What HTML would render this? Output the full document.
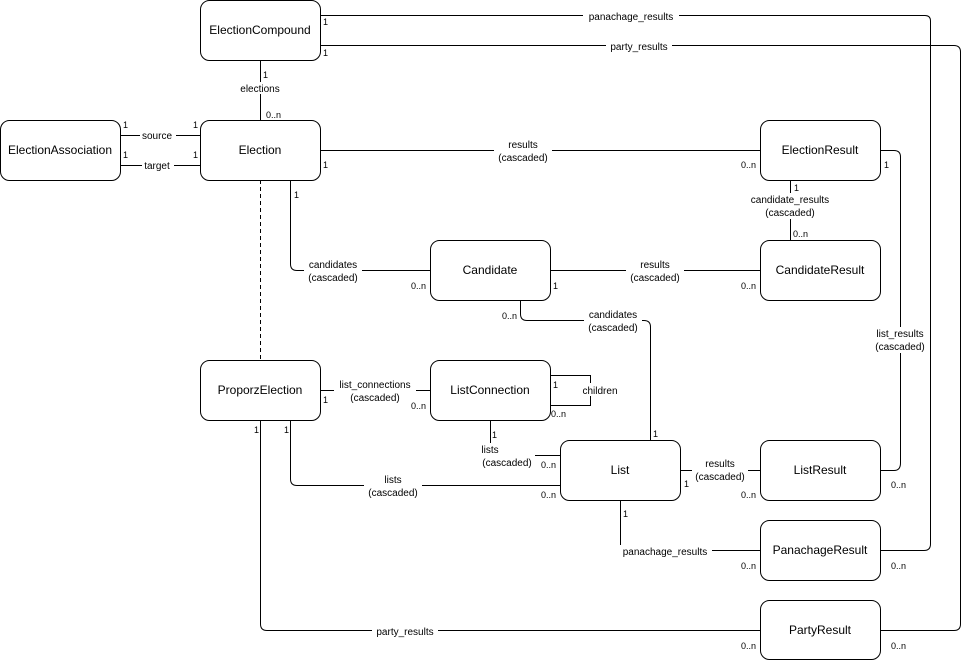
<!DOCTYPE html>
<html><head><meta charset="utf-8"><style>
html,body{margin:0;padding:0;background:#fff;}
svg{display:block;font-family:"Liberation Sans",Arial,sans-serif;}
.b{fill:#fff;stroke:#000;stroke-width:1;}
.l{fill:none;stroke:#000;stroke-width:1;}
.t{font-size:12px;text-anchor:middle;dominant-baseline:central;}
.e{font-size:10px;text-anchor:middle;}
.m{font-size:9px;}
.bg{fill:#fff;}
</style></head><body>
<svg width="962" height="661" viewBox="0 0 962 661" xmlns="http://www.w3.org/2000/svg">
<!-- connectors -->
<path class="l" d="M320.5 15.5 H925 Q930.5 15.5 930.5 21 V544 Q930.5 550.5 924 550.5 H880"/>
<path class="l" d="M320.5 45.5 H954 Q960.5 45.5 960.5 52 V624 Q960.5 630.5 954 630.5 H880"/>
<path class="l" d="M260.5 60 V120"/>
<path class="l" d="M120 135.5 H200 M120 165.5 H200"/>
<path class="l" d="M320 150.5 H760"/>
<path class="l" d="M790.5 180 V240"/>
<path class="l" d="M880 150.5 H894 Q900.5 150.5 900.5 157 V463 Q900.5 470.5 894 470.5 H880"/>
<path class="l" d="M290.5 180 V264 Q290.5 270.5 297 270.5 H430"/>
<path class="l" d="M260.5 180 V360" stroke-dasharray="4 3"/>
<path class="l" d="M550 270.5 H760"/>
<path class="l" d="M520.5 300 V314 Q520.5 320.5 527 320.5 H644 Q650.5 320.5 650.5 327 V440"/>
<path class="l" d="M320 390.5 H430"/>
<path class="l" d="M550 375.5 H590.5 V405.5 H550"/>
<path class="l" d="M490.5 420 V443 M535 455.5 H560"/>
<path class="l" d="M290.5 420 V479 Q290.5 485.5 297 485.5 H560"/>
<path class="l" d="M680 470.5 H760"/>
<path class="l" d="M620.5 500 V550.5 H760"/>
<path class="l" d="M260.5 420 V624 Q260.5 630.5 267 630.5 H760"/>
<!-- edge labels -->
<g class="e">
<rect class="bg" x="583" y="9" width="96" height="12"/><text x="631" y="20">panachage_results</text>
<rect class="bg" x="606" y="39" width="66" height="12"/><text x="639" y="50">party_results</text>
<rect class="bg" x="236" y="82" width="50" height="12"/><text x="260" y="92">elections</text>
<rect class="bg" x="140" y="129" width="36" height="12"/><text x="157" y="139">source</text>
<rect class="bg" x="142" y="159" width="32" height="12"/><text x="157" y="169">target</text>
<rect class="bg" x="494" y="138" width="58" height="26"/><text x="523" y="148">results</text><text x="523" y="161">(cascaded)</text>
<rect class="bg" x="745" y="193" width="90" height="26"/><text x="790" y="203">candidate_results</text><text x="790" y="216">(cascaded)</text>
<rect class="bg" x="870" y="327" width="60" height="26"/><text x="900" y="337">list_results</text><text x="900" y="350">(cascaded)</text>
<rect class="bg" x="304" y="258" width="58" height="26"/><text x="333" y="268">candidates</text><text x="333" y="281">(cascaded)</text>
<rect class="bg" x="626" y="258" width="58" height="26"/><text x="655" y="268">results</text><text x="655" y="281">(cascaded)</text>
<rect class="bg" x="584" y="308" width="58" height="26"/><text x="613" y="318">candidates</text><text x="613" y="331">(cascaded)</text>
<rect class="bg" x="334" y="378" width="82" height="26"/><text x="375" y="388">list_connections</text><text x="375" y="401">(cascaded)</text>
<rect class="bg" x="580" y="383" width="40" height="13"/><text x="600" y="394">children</text>
<text x="490" y="453">lists</text><text x="507" y="466">(cascaded)</text>
<rect class="bg" x="364" y="473" width="58" height="26"/><text x="393" y="483">lists</text><text x="393" y="496">(cascaded)</text>
<rect class="bg" x="692" y="457" width="56" height="26"/><text x="720" y="467">results</text><text x="720" y="480">(cascaded)</text>
<rect class="bg" x="618" y="545" width="94" height="12"/><text x="665" y="555">panachage_results</text>
<rect class="bg" x="372" y="625" width="66" height="12"/><text x="405" y="635">party_results</text>
</g>
<!-- multiplicities -->
<g class="m">
<text x="323" y="25">1</text><text x="323" y="56">1</text>
<text x="263" y="78">1</text><text x="266" y="118">0..n</text>
<text x="123" y="128">1</text><text x="193" y="128">1</text>
<text x="123" y="158">1</text><text x="193" y="158">1</text>
<text x="323" y="168">1</text><text x="741" y="168">0..n</text>
<text x="884" y="168">1</text>
<text x="794" y="191">1</text><text x="793" y="237">0..n</text>
<text x="294" y="198">1</text><text x="411" y="289">0..n</text>
<text x="553" y="289">1</text><text x="741" y="289">0..n</text>
<text x="502" y="319">0..n</text><text x="653" y="437">1</text>
<text x="323" y="403">1</text><text x="411" y="409">0..n</text>
<text x="553" y="388">1</text><text x="551" y="417">0..n</text>
<text x="492" y="438">1</text><text x="541" y="468">0..n</text>
<text x="284" y="433">1</text><text x="254" y="433">1</text>
<text x="541" y="498">0..n</text>
<text x="684" y="487">1</text><text x="741" y="498">0..n</text>
<text x="891" y="488">0..n</text>
<text x="623" y="517">1</text><text x="741" y="569">0..n</text>
<text x="891" y="569">0..n</text>
<text x="741" y="649">0..n</text><text x="891" y="649">0..n</text>
</g>
<!-- boxes -->
<g>
<rect class="b" x="200.5" y="0.5" width="120" height="60" rx="9"/><text class="t" x="260" y="30">ElectionCompound</text>
<rect class="b" x="200.5" y="120.5" width="120" height="60" rx="9"/><text class="t" x="260" y="150">Election</text>
<rect class="b" x="0.5" y="120.5" width="120" height="60" rx="9"/><text class="t" x="60" y="150">ElectionAssociation</text>
<rect class="b" x="760.5" y="120.5" width="120" height="60" rx="9"/><text class="t" x="820" y="150">ElectionResult</text>
<rect class="b" x="430.5" y="240.5" width="120" height="60" rx="9"/><text class="t" x="490" y="270">Candidate</text>
<rect class="b" x="760.5" y="240.5" width="120" height="60" rx="9"/><text class="t" x="820" y="270">CandidateResult</text>
<rect class="b" x="200.5" y="360.5" width="120" height="60" rx="9"/><text class="t" x="260" y="390">ProporzElection</text>
<rect class="b" x="430.5" y="360.5" width="120" height="60" rx="9"/><text class="t" x="490" y="390">ListConnection</text>
<rect class="b" x="560.5" y="440.5" width="120" height="60" rx="9"/><text class="t" x="620" y="470">List</text>
<rect class="b" x="760.5" y="440.5" width="120" height="60" rx="9"/><text class="t" x="820" y="470">ListResult</text>
<rect class="b" x="760.5" y="520.5" width="120" height="60" rx="9"/><text class="t" x="820" y="550">PanachageResult</text>
<rect class="b" x="760.5" y="600.5" width="120" height="59" rx="9"/><text class="t" x="820" y="630">PartyResult</text>
</g>
</svg>
</body></html>
